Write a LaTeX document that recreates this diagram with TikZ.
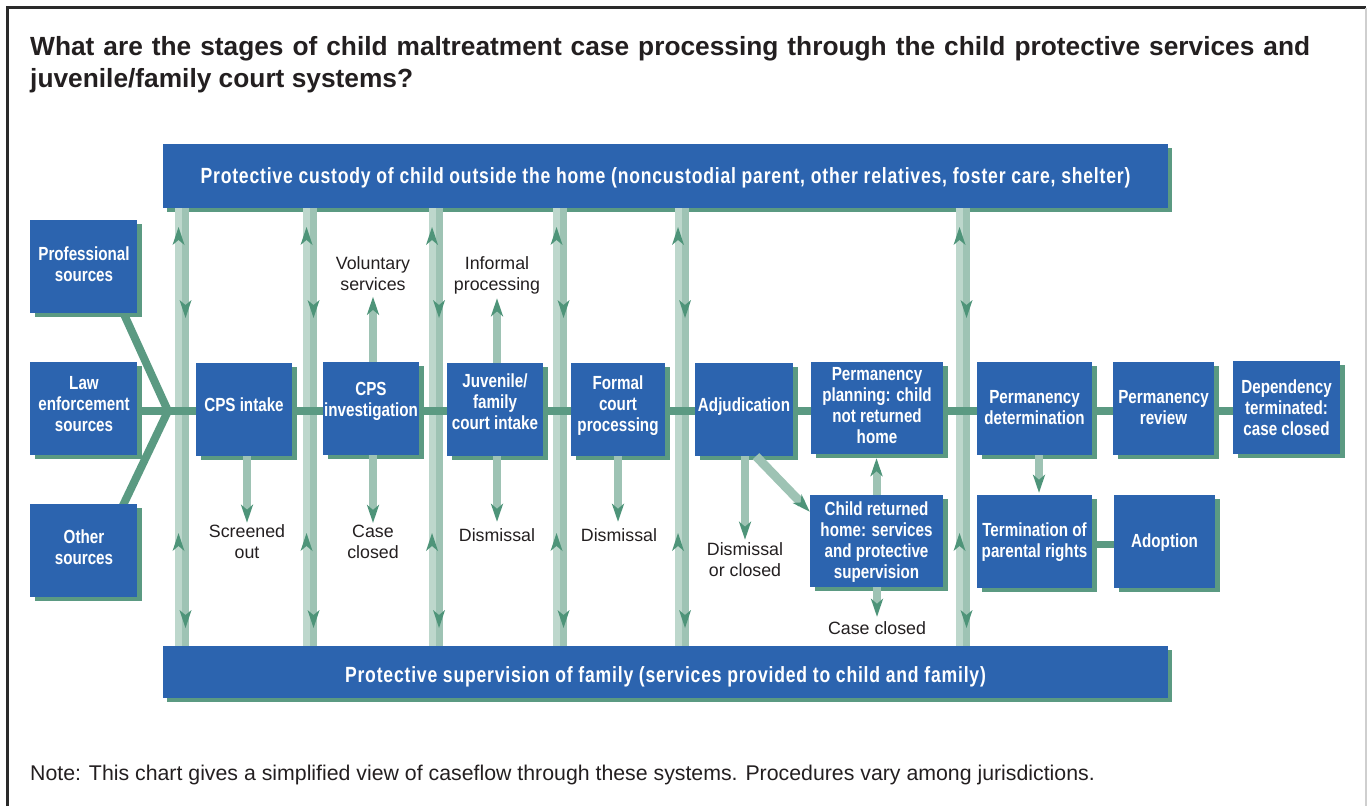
\documentclass[tikz,border=0pt]{standalone}
\usepackage{fontspec}
\setmainfont{Liberation Sans}
\newfontfamily\condf{Liberation Sans}[FakeStretch=0.8]
\newfontfamily\condsp{Liberation Sans}[FakeStretch=0.8,LetterSpace=3.6]
\usetikzlibrary{arrows.meta,shadows}
\definecolor{boxblue}{HTML}{2C64AF}
\definecolor{sgreen}{HTML}{5B9A82}
\definecolor{lanel}{HTML}{BDD7CC}
\definecolor{laned}{HTML}{9EC3B4}
\definecolor{ahc}{HTML}{4E9479}
\definecolor{ink}{HTML}{231F20}
\definecolor{framec}{HTML}{2A2A2A}
\definecolor{rframe}{HTML}{CFCFCF}
\pgfdeclarelayer{under}
\pgfdeclarelayer{lines}
\pgfsetlayers{under,lines,main}
\begin{document}
\begin{tikzpicture}[x=1pt,y=-1pt,
  boxst/.style={fill=boxblue, draw=none, inner sep=0pt,
    general shadow={fill=sgreen, shadow xshift=5pt, shadow yshift=-3.5pt}},
  banst/.style={fill=boxblue, draw=none, inner sep=0pt, text=white,
    font=\condsp\bfseries\fontsize{22}{26}\selectfont,
    general shadow={fill=sgreen, shadow xshift=4pt, shadow yshift=-4pt}},
  btxt/.style={text=white, font=\condf\bfseries\fontsize{19}{21}\selectfont,
    align=center, inner sep=0pt, execute at begin node=\strut, execute at end node=\strut},
  lbl/.style={text=ink, font=\fontsize{17.8}{21}\selectfont,
    align=center, inner sep=0pt, execute at begin node=\strut, execute at end node=\strut},
  sarrow/.style={laned, line width=8pt, -{Stealth[length=18pt,width=12pt,inset=5pt,color=ahc]}},
  mainline/.style={sgreen, line width=8pt},
]
\useasboundingbox (0,0) rectangle (1367,806);

% frame
\draw[framec, line width=2.5pt] (7.5,806) -- (7.5,7.5) -- (1366,7.5);
\draw[rframe, line width=1.5pt] (1366,7.5) -- (1366,806);

% title and note
\node[anchor=base west, inner sep=0pt, text=ink, font=\bfseries\fontsize{26.3}{32}\selectfont] (t1) at (30,55)
  {\makebox[1280pt][s]{What are the stages of child maltreatment case processing through the child protective services and}};
\node[anchor=base west, inner sep=0pt, text=ink, font=\bfseries\fontsize{26.3}{32}\selectfont] (t2) at (30,87)
  {juvenile/family court systems?};
\node[anchor=base west, inner sep=0pt, text=ink, font=\fontsize{21.3}{25}\selectfont] (note) at (30,780)
  {Note: This chart gives a simplified view of caseflow through these systems. Procedures vary among jurisdictions.};

\begin{pgfonlayer}{under}
% banners
\node[banst, minimum width=1005pt, minimum height=64pt, text height=14.6pt, text depth=0pt] (topb) at (665.5,176)
  {Protective custody of child outside the home (noncustodial parent, other relatives, foster care, shelter)};
\node[banst, minimum width=1005pt, minimum height=52pt, text height=20.6pt, text depth=0pt] (botb) at (665.5,672)
  {Protective supervision of family (services provided to child and family)};

% two-way bars between the banners
\foreach \c in {182,310,435.5,560,681.5,963} {
  \fill[lanel] (\c-7,208) rectangle (\c,646);
  \fill[laned] (\c,208) rectangle (\c+7,646);
  \fill[ahc] (\c-3.5,227) -- ++(6,18) -- ++(-6,-5) -- ++(-6,5) -- cycle;
  \fill[ahc] (\c-3.5,533) -- ++(6,18) -- ++(-6,-5) -- ++(-6,5) -- cycle;
  \fill[ahc] (\c+3.5,318) -- ++(6,-18) -- ++(-6,5) -- ++(-6,-5) -- cycle;
  \fill[ahc] (\c+3.5,628) -- ++(6,-18) -- ++(-6,5) -- ++(-6,-5) -- cycle;
}
\end{pgfonlayer}

% boxes
\node[boxst, minimum width=107pt, minimum height=93pt] (prof) at (83.5,266.5) {};
\node[boxst, minimum width=107pt, minimum height=93pt] (law) at (83.5,408.5) {};
\node[boxst, minimum width=107pt, minimum height=93pt] (other) at (83.5,550.5) {};
\node[boxst, minimum width=96pt, minimum height=93pt] (intake) at (244,409.5) {};
\node[boxst, minimum width=96pt, minimum height=93pt] (invest) at (371,408.5) {};
\node[boxst, minimum width=96pt, minimum height=93pt] (juv) at (495,409.5) {};
\node[boxst, minimum width=94pt, minimum height=93pt] (formal) at (618,409.5) {};
\node[boxst, minimum width=98pt, minimum height=93pt] (adj) at (744,409.5) {};
\node[boxst, minimum width=132pt, minimum height=92pt] (pplan) at (877,408) {};
\node[boxst, minimum width=115pt, minimum height=93pt] (pdet) at (1034.5,408.5) {};
\node[boxst, minimum width=101pt, minimum height=93pt] (prev) at (1163.5,408.5) {};
\node[boxst, minimum width=107pt, minimum height=93pt] (dep) at (1286.5,407.5) {};
\node[boxst, minimum width=133pt, minimum height=92pt] (child) at (876.5,541) {};
\node[boxst, minimum width=115pt, minimum height=93pt] (term) at (1034.5,541.5) {};
\node[boxst, minimum width=101pt, minimum height=93pt] (adopt) at (1164.5,541.5) {};

% main flow line and source lines (below the boxes)
\begin{pgfonlayer}{lines}
\coordinate (jn) at (168,411);
\draw[mainline, line join=miter] ([xshift=35.5pt,yshift=10pt]prof.south) -- (jn) -- ([xshift=35.5pt,yshift=-10pt]other.north);
\draw[mainline] (jn -| law.east) -- (jn -| dep.west);
\draw[sgreen, line width=7pt] ([yshift=-2.5pt]term.east) -- ([yshift=-2.5pt]adopt.west);
\end{pgfonlayer}

% box texts
\node[btxt] (proft) at (84,267.5) {Professional\\sources};
\node[btxt] (lawt) at (84,407) {Law\\enforcement\\sources};
\node[btxt] (othert) at (84,550.5) {Other\\sources};
\node[btxt] (intaket) at (244,407) {CPS intake};
\node[btxt] (investt) at (371,403) {CPS\\investigation};
\node[btxt] (juvt) at (495,404.5) {Juvenile/\\family\\court intake};
\node[btxt] (formalt) at (618,407) {Formal\\court\\processing};
\node[btxt] (adjt) at (744,407) {Adjudication};
\node[btxt] (pplant) at (877,409) {Permanency\\planning: child\\not returned\\home};
\node[btxt] (pdett) at (1034.5,411) {Permanency\\determination};
\node[btxt] (prevt) at (1163.5,411) {Permanency\\review};
\node[btxt] (dept) at (1286.5,410.5) {Dependency\\terminated:\\case closed};
\node[btxt] (childt) at (876.5,543) {Child returned\\home: services\\and protective\\supervision};
\node[btxt] (termt) at (1034.5,543) {Termination of\\parental rights};
\node[btxt] (adoptt) at (1164.5,543.5) {Adoption};

% outcome labels
\node[lbl] (scr) at (247,545) {Screened\\out};
\node[lbl] (cc1) at (373,545) {Case\\closed};
\node[lbl] (vol) at (373,276.5) {Voluntary\\services};
\node[lbl] (inf) at (497,277) {Informal\\processing};
\node[lbl] (dis1) at (497,537) {Dismissal};
\node[lbl] (dis2) at (619,537) {Dismissal};
\node[lbl] (disc) at (745,563) {Dismissal\\or closed};
\node[lbl] (cc2) at (877,630) {Case closed};

% small arrows
\draw[sarrow, shorten >=2pt] (intake.south -| scr.north) -- (scr.north);
\draw[sarrow, shorten >=2pt] (invest.south -| cc1.north) -- (cc1.north);
\draw[sarrow] (invest.north -| vol.south) -- (vol.south);
\draw[sarrow, shorten >=1pt] (juv.north -| inf.south) -- (inf.south);
\draw[sarrow, shorten >=4.5pt] (juv.south -| dis1.north) -- (dis1.north);
\draw[sarrow, shorten >=4.5pt] ([xshift=-1pt]formal.south -| dis2.north) -- ([xshift=-1pt]dis2.north);
\draw[sarrow, shorten >=3pt] (adj.south -| disc.north) -- (disc.north);
\draw[sarrow, line width=9pt] ([xshift=12pt]adj.south) -- ([yshift=-17pt]child.north west);
\draw[sarrow, shorten >=4pt] (child.north) -- (child.north |- pplan.south);
\draw[sarrow, shorten >=2.5pt] (child.south -| cc2.north) -- (cc2.north);
\draw[sarrow, shorten >=2pt] ([xshift=4.5pt]pdet.south) -- ([xshift=4.5pt]term.north);
\end{tikzpicture}
\end{document}
